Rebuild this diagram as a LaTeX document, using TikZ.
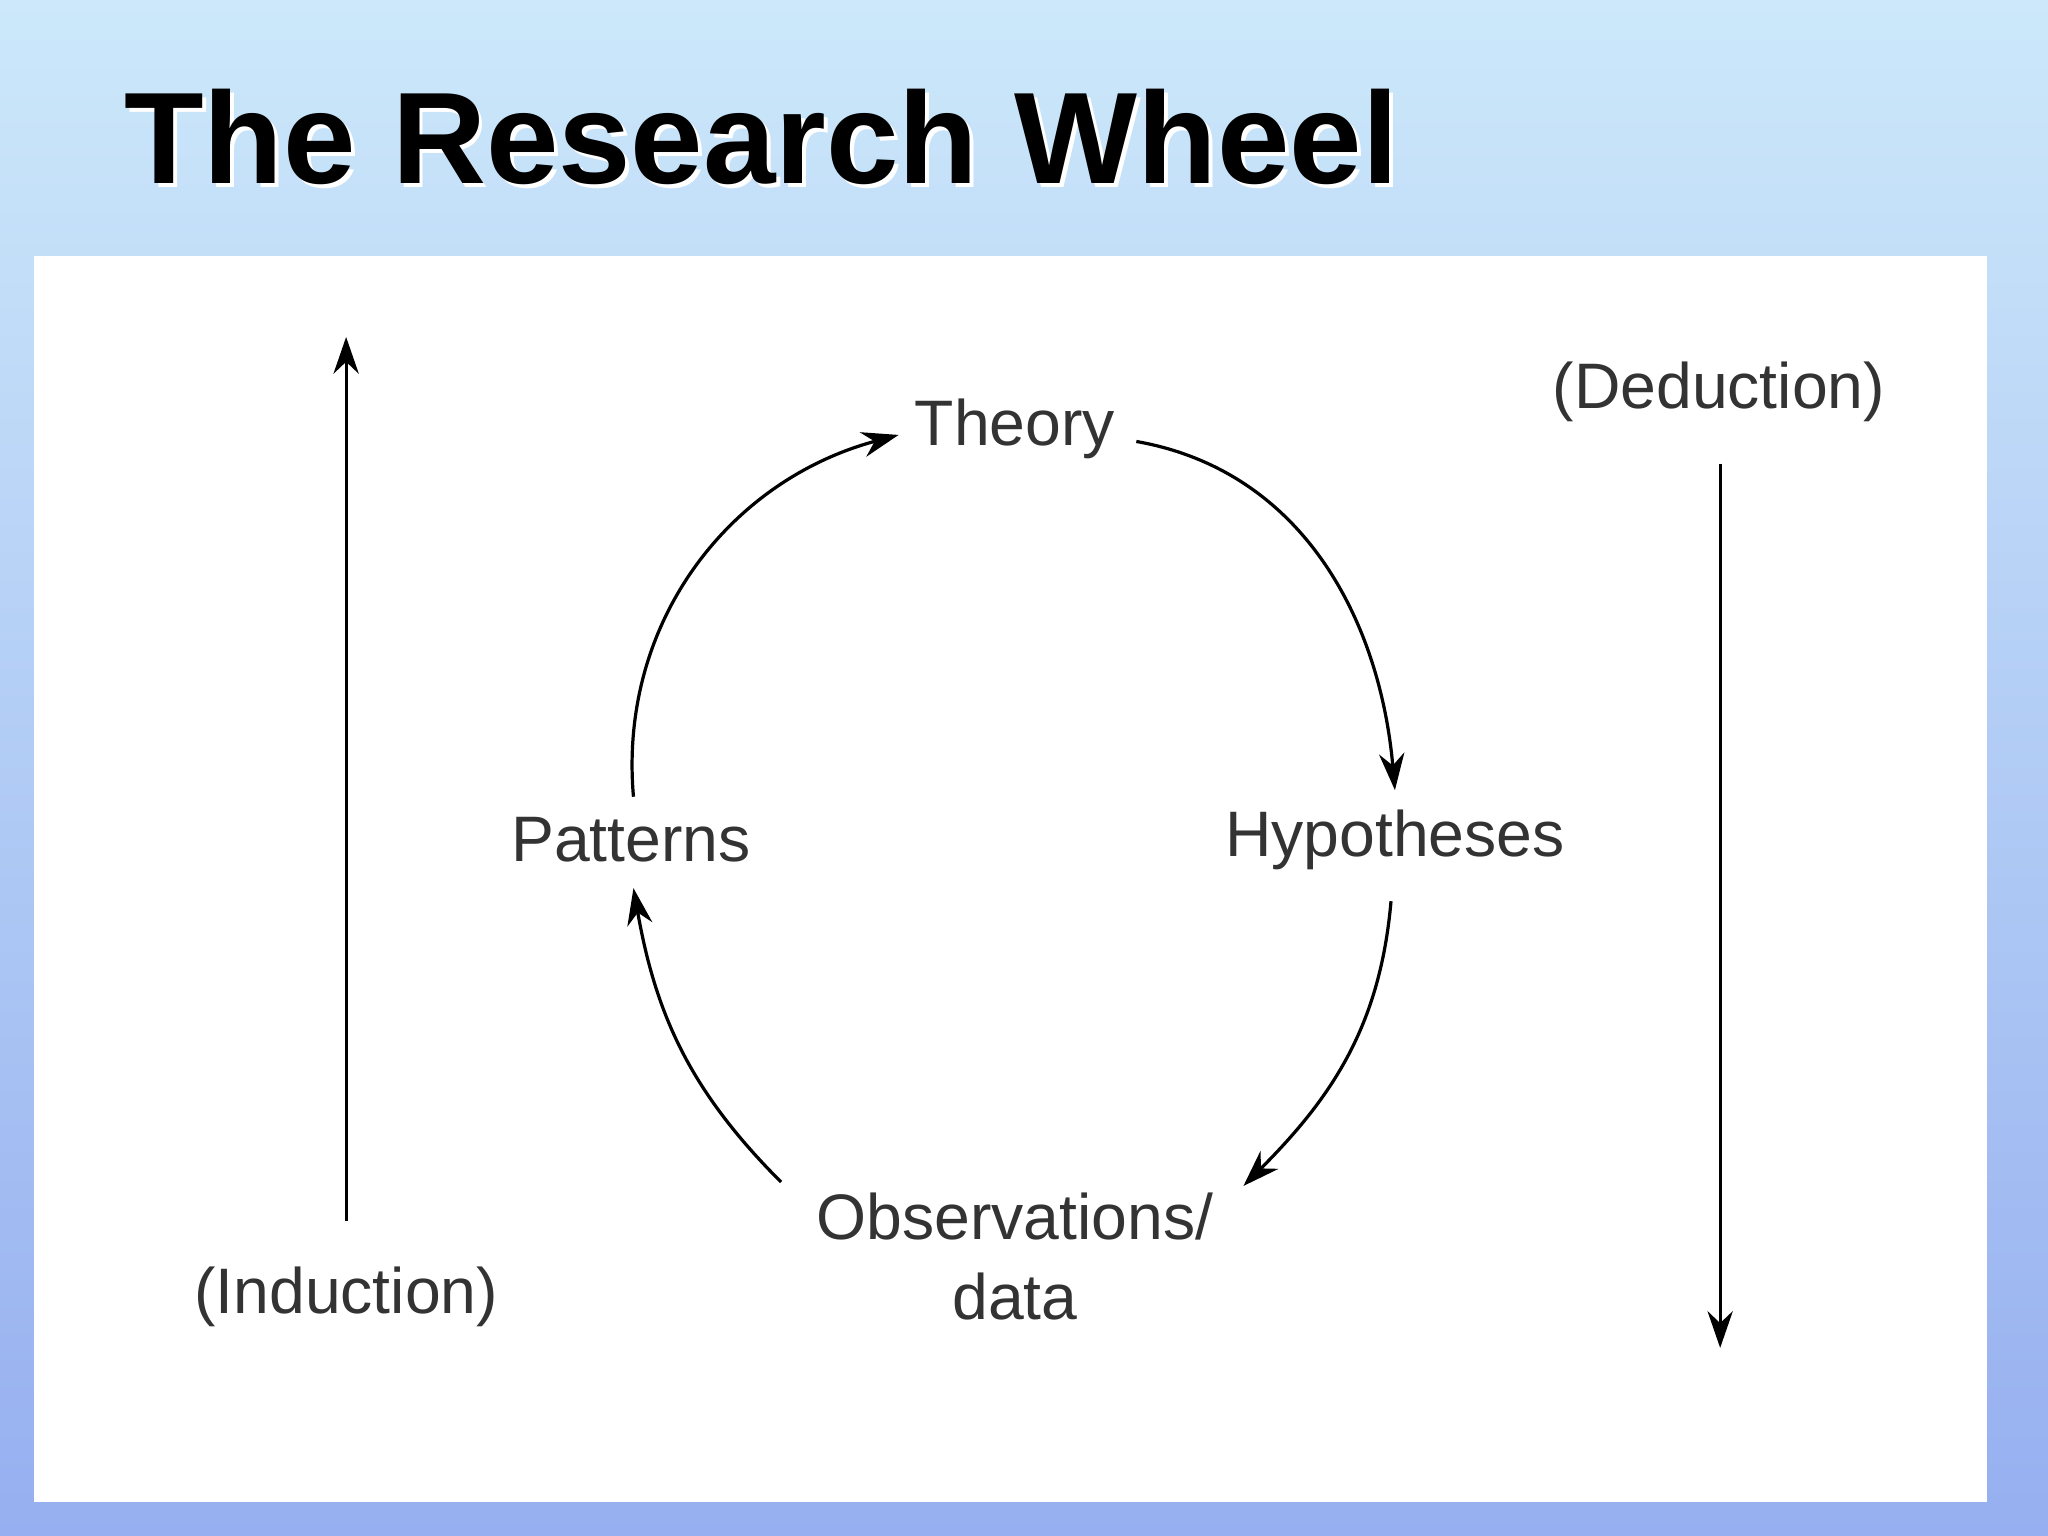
\documentclass[tikz,border=0pt]{standalone}
\usepackage{fontspec}
\setmainfont{Liberation Sans}
\usetikzlibrary{arrows.meta}
\begin{document}
\begin{tikzpicture}[x=0.01cm,y=-0.01cm,
  lbl/.style={font=\fontsize{14}{17.5}\selectfont, text=black!80, inner sep=2pt, align=center},
  arr/.style={-{Stealth[length=8pt,width=5.5pt]}, line width=0.7pt}]
\useasboundingbox (0,0) rectangle (1568,1176);
\shade[top color={rgb,255:red,204;green,232;blue,250}, bottom color={rgb,255:red,150;green,175;blue,240}] (0,0) rectangle (1568,1176);
\fill[white] (26,196) rectangle (1521,1150);
\node (titles) at (586,108) {\resizebox{9.75cm}{!}{\color{white}\bfseries The Research Wheel}};
\node (title) at (583,105) {\resizebox{9.75cm}{!}{\bfseries The Research Wheel}};
\node[lbl] (th) at (777,328) {Theory};
\node[lbl] (hy) at (1068,643) {Hypotheses};
\node[lbl] (pa) at (483,643) {Patterns};
\node[lbl] (ob) at (777,962) {Observations/\\data};
\node[lbl] (in) at (265,993) {(Induction)};
\node[lbl] (de) at (1316,300) {(Deduction)};
\coordinate (lb) at (265,935); \coordinate (lt) at (265,258);
\coordinate (rt) at (1317,355); \coordinate (rb) at (1317,1032);
\draw[arr] (lb) -- (lt);
\draw[arr] (rt) -- (rb);
\draw[arr] (870,338) to[out=-10,in=95] (1068,605);
\draw[arr] (1065,690) to[out=-95,in=45] (952,908);
\draw[arr] (598,905) to[out=135,in=-80] (485,680);
\draw[arr] (485,610) to[out=95,in=-165] (688,333);
\end{tikzpicture}
\end{document}
